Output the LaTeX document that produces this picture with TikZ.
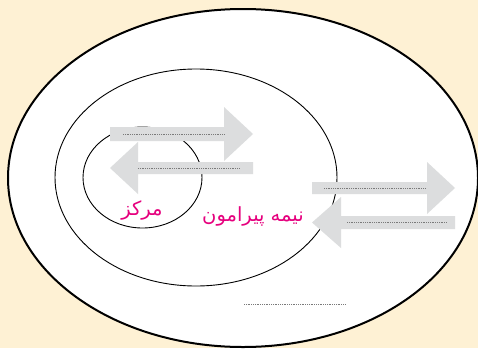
\documentclass[tikz,border=0pt]{standalone}
\usepackage{fontspec}
\newfontfamily\arabicfont[Script=Arabic]{DejaVu Sans}
\TeXXeTstate=1
\definecolor{paper}{HTML}{FEF1D4}
\definecolor{arrowgray}{HTML}{DCDDDE}
\definecolor{dotgray}{HTML}{7A7A7A}
\definecolor{pinklabel}{HTML}{E6007E}
\tikzset{
	blockarrow/.style={fill=arrowgray,draw=none},
	blankline/.style={draw=dotgray,line width=1pt,dash pattern=on 1pt off .8pt},
	zonelabel/.style={text=pinklabel,inner sep=0pt,font=\arabicfont\fontsize{19.5}{22}\selectfont}
}
\begin{document}
\begin{tikzpicture}[x=1pt,y=-1pt]
	\useasboundingbox(0,0)rectangle(478,348);
	\fill[paper](0,0)rectangle(478,348);
	\clip(0,0)rectangle(478,348);
	% the three zones
	\draw[line width=2pt,fill=white](243,178)ellipse[x radius=235,y radius=169];
	\draw[line width=.9pt](196,177.5)ellipse[x radius=141,y radius=108.5];
	\draw[line width=.9pt](142.5,177.5)ellipse[x radius=59.5,y radius=50.5];
	% exchange arrows
	\fill[blockarrow](110,127)--(224,127)--(224,107)--(253,134)--(224,161)--(224,141)--(110,141)--cycle;
	\fill[blockarrow](253,162)--(138,162)--(138,142)--(110,168)--(138,194)--(138,174)--(253,174)--cycle;
	\fill[blockarrow](312,182)--(427,182)--(427,162)--(455,188)--(427,214)--(427,194)--(312,194)--cycle;
	\fill[blockarrow](455,216)--(341,216)--(341,197)--(312,222.5)--(341,248)--(341,229)--(455,229)--cycle;
	% blanks
	\draw[blankline](123,134)--(224,134);
	\draw[blankline](138,168)--(239,168);
	\draw[blankline](324,188)--(426,188);
	\draw[blankline](347,222.5)--(447,222.5);
	\draw[blankline](244,304)--(346,304);
	% labels
	\node[zonelabel](markaz)at(142,210){\beginR مرکز\endR};
	\node[zonelabel](nimeh)at(253,216){\beginR نیمه پیرامون\endR};
\end{tikzpicture}
\end{document}
